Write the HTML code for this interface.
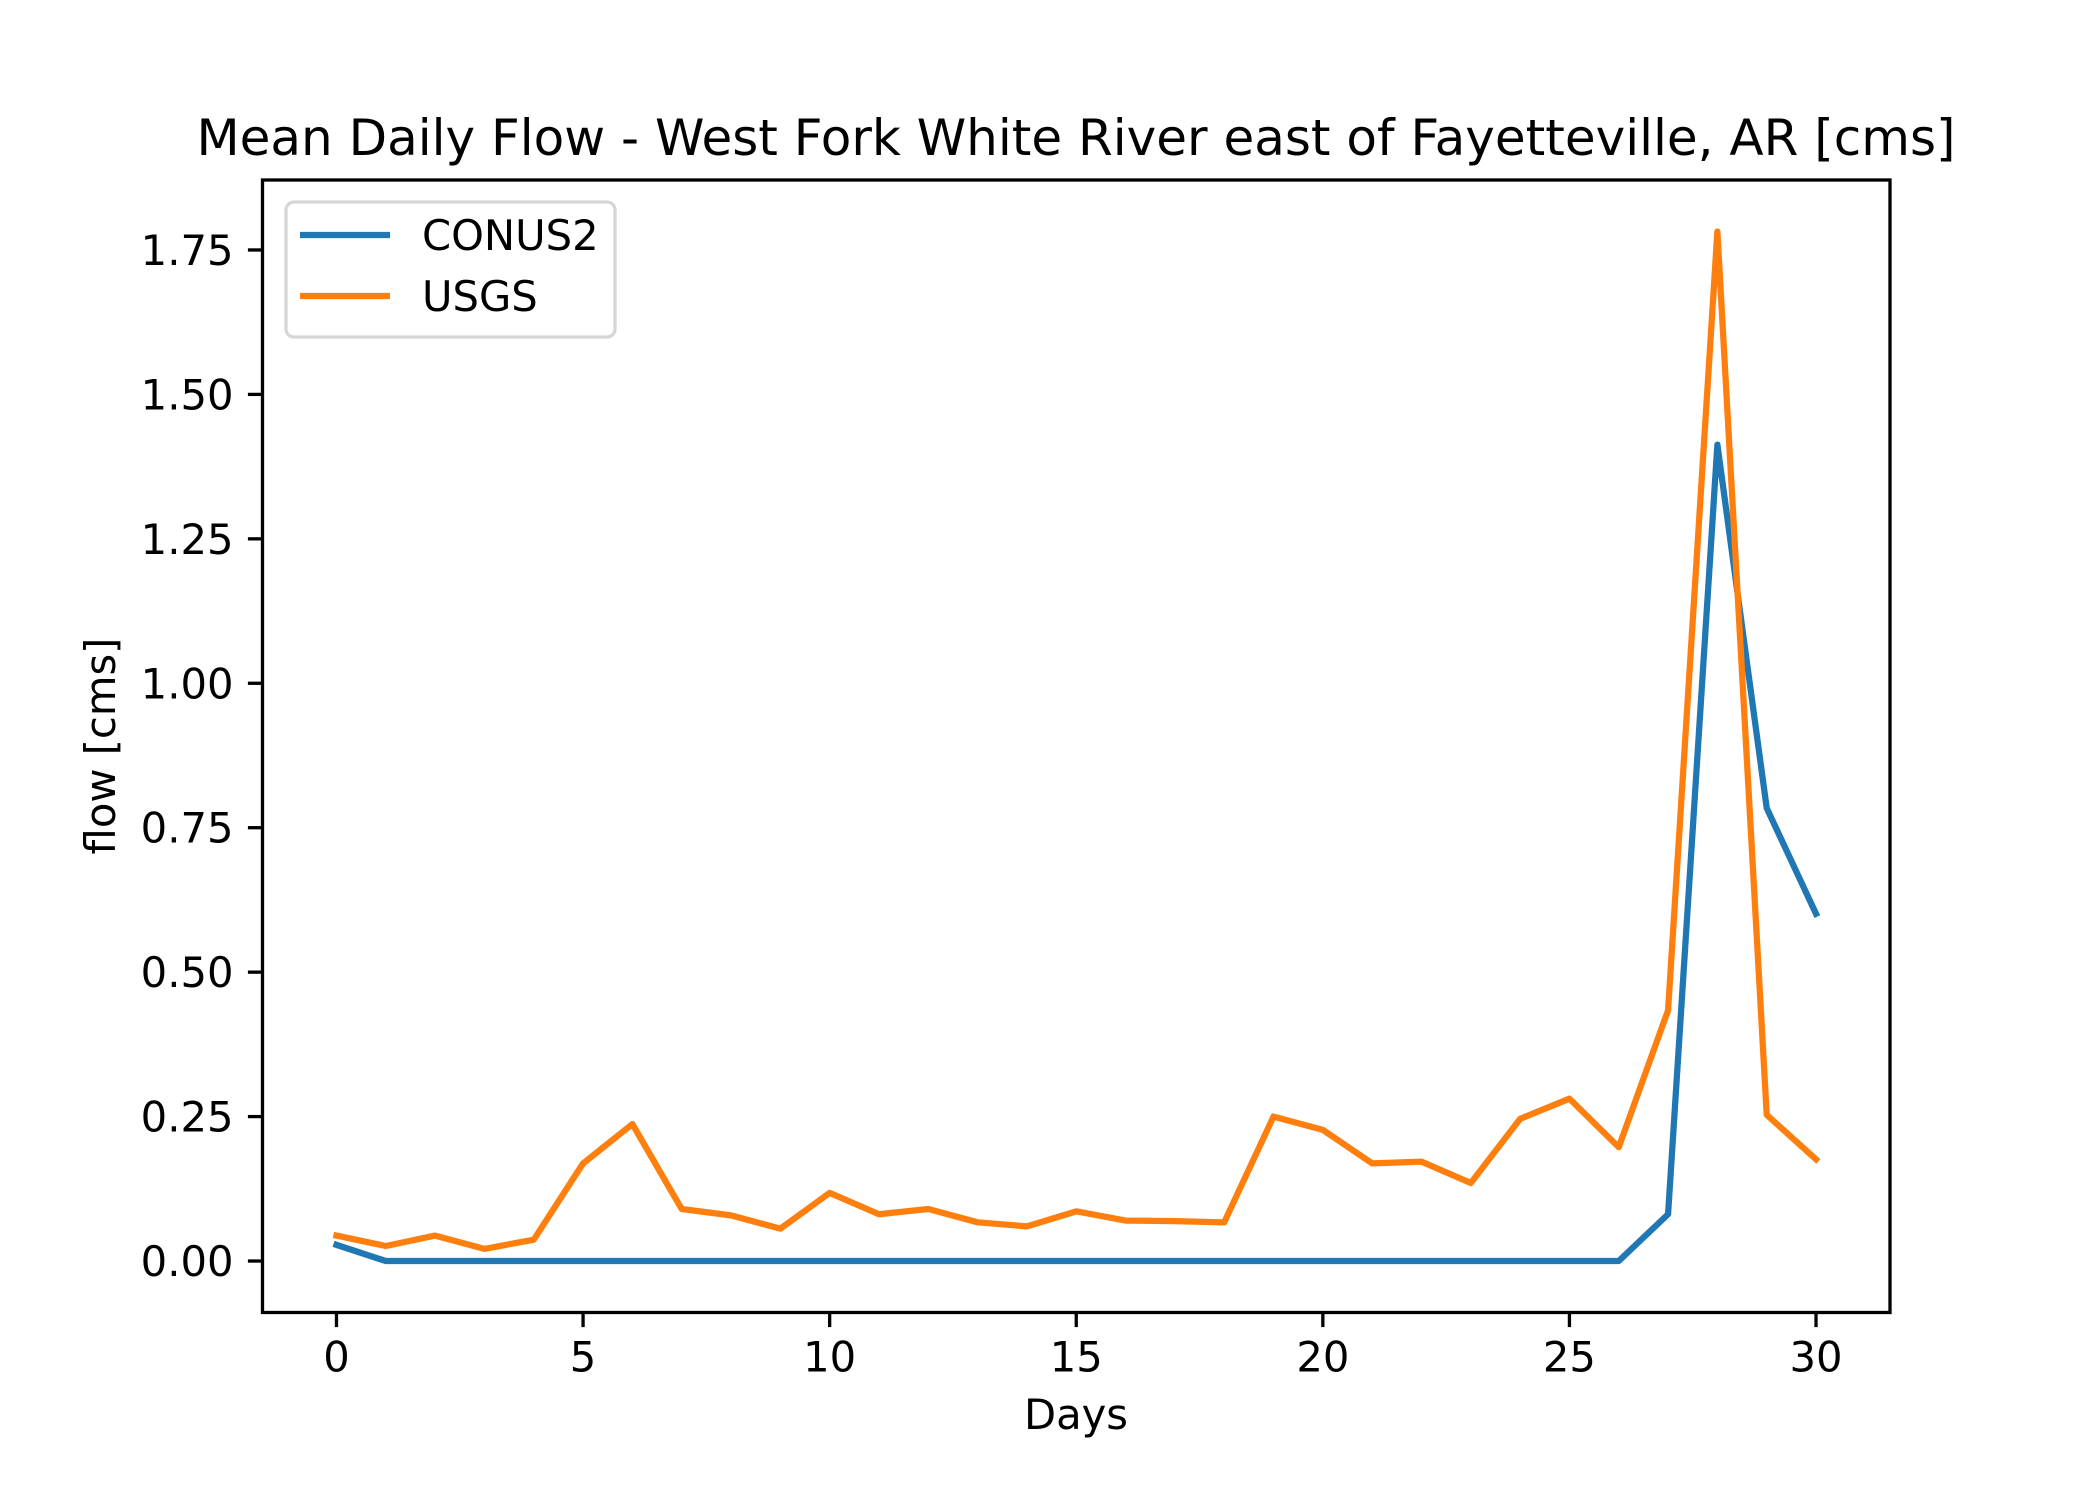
<!DOCTYPE html>
<html><head><meta charset="utf-8"><style>
html,body{margin:0;padding:0;background:#fff;}
svg{display:block;font-family:"DejaVu Sans","Liberation Sans",sans-serif;}
</style></head><body>
<svg id="chart" width="2100" height="1500" viewBox="0 0 2100 1500">
<rect width="2100" height="1500" fill="#fff"/>
<text x="1076" y="155" font-size="50" text-anchor="middle">Mean Daily Flow - West Fork White River east of Fayetteville, AR [cms]</text>
<g id="plot"></g>
<text x="1076" y="1429" font-size="41.7" text-anchor="middle">Days</text>
<text transform="translate(115,746) rotate(-90)" font-size="41.7" text-anchor="middle">flow [cms]</text>
<rect x="262.5" y="180" width="1627.5" height="1132.5" fill="none" stroke="#000" stroke-width="3.3"/>
<g>
<rect x="286" y="202" width="329" height="135" rx="8" fill="#fff" fill-opacity="0.8" stroke="#d6d6d6" stroke-width="3.3"/>
<g>
<line x1="300" y1="235" x2="390" y2="235" stroke="#1f77b4" stroke-width="6.25"/>
<text x="422" y="250" font-size="41.7">CONUS2</text></g>
<g>
<line x1="300" y1="296" x2="390" y2="296" stroke="#ff7f0e" stroke-width="6.25"/>
<text x="422" y="311" font-size="41.7">USGS</text></g>
</g>
</svg>
<script>
const days = Array.from({length:31},(_,i)=>i);
const conus2 = [0.028,0,0,0,0,0,0,0,0,0,0,0,0,0,0,0,0,0,0,0,0,0,0,0,0,0,0,0.081,1.413,0.784,0.601];
const usgs = [0.044,0.026,0.044,0.021,0.037,0.169,0.237,0.09,0.079,0.056,0.118,0.081,0.09,0.067,0.06,0.086,0.07,0.069,0.067,0.25,0.227,0.169,0.172,0.135,0.246,0.281,0.197,0.434,1.782,0.253,0.176];
const xTicks = [0,5,10,15,20,25,30];
const yTicks = [0,0.25,0.5,0.75,1.0,1.25,1.5,1.75];

const L=262.5,R=1890,T=180,B=1312.5;
const xmin0=Math.min(...days), xmax0=Math.max(...days);
const xpad=(xmax0-xmin0)*0.05, xlo=xmin0-xpad, xhi=xmax0+xpad;
const all=conus2.concat(usgs);
const ymin0=Math.min(...all), ymax0=Math.max(...all);
const ypad=(ymax0-ymin0)*0.05, ylo=ymin0-ypad, yhi=ymax0+ypad;
const sx=v=>L+(v-xlo)/(xhi-xlo)*(R-L);
const sy=v=>B-(v-ylo)/(yhi-ylo)*(B-T);
const NS='http://www.w3.org/2000/svg';
const g=document.getElementById('plot');
function mk(t,a){const e=document.createElementNS(NS,t);for(const k in a)e.setAttribute(k,a[k]);g.appendChild(e);return e;}
xTicks.forEach(v=>{
  const l=mk('line',{x1:sx(v),x2:sx(v),y1:B,y2:B+14.6,stroke:'#000','stroke-width':3.3});
  
  
  const t=mk('text',{x:sx(v),y:B+59,'font-size':41.7,'text-anchor':'middle'});
  t.textContent=String(v);
  
  
});
yTicks.forEach(v=>{
  const l=mk('line',{x1:L-14.6,x2:L,y1:sy(v),y2:sy(v),stroke:'#000','stroke-width':3.3});
  
  
  const t=mk('text',{x:L-29,y:sy(v)+15,'font-size':41.7,'text-anchor':'end'});
  t.textContent=v.toFixed(2);
  
  
});
function series(vals,color,name){
  const p=mk('polyline',{points:vals.map((v,i)=>sx(days[i])+','+sy(v)).join(' '),fill:'none',stroke:color,'stroke-width':6.25,'stroke-linejoin':'round','stroke-linecap':'square'});
  
  
}
series(conus2,'#1f77b4','conus2-line');
series(usgs,'#ff7f0e','usgs-line');
</script>
</body></html>
